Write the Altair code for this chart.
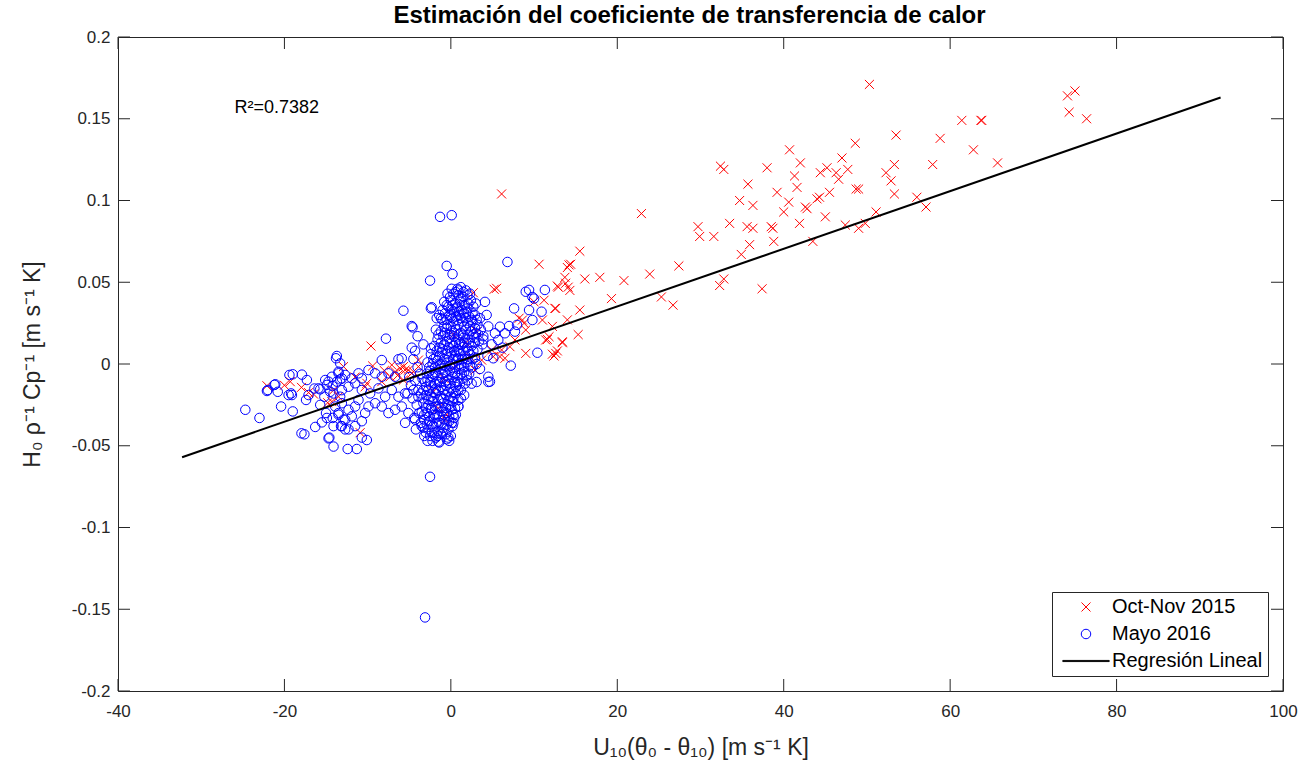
import altair as alt
import pandas as pd

# ---- Oct-Nov 2015 campaign: (U10*(theta0-theta10), H0/(rho*Cp)) ----
octnov_high = [
    (50.3, 0.171), (53.5, 0.140), (48.6, 0.135), (40.7, 0.131), (42.0, 0.123),
    (47.0, 0.126), (32.4, 0.121), (32.8, 0.119), (38.0, 0.120), (35.7, 0.110),
    (41.3, 0.115), (41.6, 0.108), (44.4, 0.117), (45.2, 0.120), (46.3, 0.117),
    (47.7, 0.119), (46.6, 0.113), (52.3, 0.117), (53.3, 0.122), (52.9, 0.112),
    (53.3, 0.104), (48.7, 0.107), (49.0, 0.107), (39.2, 0.105), (40.6, 0.099),
    (40.0, 0.093), (42.6, 0.096), (42.8, 0.095), (44.0, 0.101), (44.3, 0.102),
    (45.5, 0.105), (45.0, 0.090), (41.9, 0.086), (34.7, 0.100), (36.3, 0.097),
    (33.5, 0.086), (29.7, 0.084), (29.9, 0.078), (31.6, 0.078), (35.6, 0.084),
    (36.3, 0.083), (38.5, 0.084), (38.7, 0.083), (35.9, 0.073), (38.8, 0.075),
    (34.9, 0.067), (43.5, 0.075), (47.4, 0.085), (49.0, 0.083), (49.8, 0.086),
    (51.1, 0.093), (56.0, 0.102), (22.9, 0.092),
    (75.0, 0.167), (74.1, 0.164), (74.3, 0.154), (76.4, 0.150), (61.4, 0.149),
    (63.7, 0.149), (63.8, 0.149), (58.8, 0.138), (62.8, 0.131), (57.9, 0.122),
    (65.7, 0.123), (57.1, 0.096),
]
octnov_mid = [
    (15.5, 0.069), (14.4, 0.061), (14.0, 0.059), (13.7, 0.053), (16.1, 0.052),
    (17.9, 0.053), (20.8, 0.051), (23.9, 0.055), (27.4, 0.060), (12.9, 0.047),
    (14.1, 0.047), (14.3, 0.045), (19.3, 0.040), (25.3, 0.041), (26.7, 0.036),
    (32.3, 0.048), (32.8, 0.052), (37.4, 0.046), (12.5, 0.034), (15.5, 0.033),
    (14.0, 0.027), (15.3, 0.018), (12.2, 0.023), (13.4, 0.013), (11.6, 0.015),
    (12.2, 0.006), (12.8, 0.008), (10.6, 0.061),
    (2.7, 0.0436), (5.2, 0.0457), (6.1, 0.104), (5.5, 0.0463), (12.8, 0.0477),
    (12.6, 0.034), (8.2, 0.028), (8.8, 0.0249), (11.0, 0.0269), (11.8, 0.0167),
    (11.4, 0.0147), (12.6, 0.0065), (12.4, 0.0049), (9.0, 0.0065), (6.1, 0.0086),
    (5.9, 0.0045), (6.5, 0.0035), (7.1, 0.0106), (7.7, 0.0147), (4.9, 0.0086),
    (3.7, 0.0024), (2.9, -0.0037), (3.1, 0.0198), (13.8, 0.0494), (14.2, 0.0606),
    (11.2, 0.039), (10.0, 0.038), (13.4, 0.0136), (9.0, 0.0208), (8.6, 0.0269),
    (5.1, 0.0045), (0.5, -0.001), (1.8, 0.013), (0.3, 0.018), (2.4, 0.004),
]
octnov_low = [
    (-22.1, -0.0133), (-19.3, -0.0108), (-17.95, -0.0143), (-17.1, -0.0175),
    (-16.5, -0.0184), (-14.8, -0.0237), (-14.3, -0.023), (-12.9, -0.0016),
    (-9.6, 0.011), (-9.4, -0.0012), (-10.9, -0.042), (-10.3, -0.0139),
    (-7.1, -0.0006), (-6.7, -0.0047), (-6.1, -0.0026), (-5.7, -0.0016),
    (-5.1, -0.0037), (-4.5, -0.0047), (-3.9, -0.0016), (-7.3, -0.0078),
    (-5.7, -0.0098), (-10.1, -0.0118), (-8.3, -0.0108), (-13.5, -0.020),
    (-14.1, -0.016), (-5.5, -0.0037), (-4.7, -0.0057), (-3.9, 0.0024),
    (-0.5, -0.031), (-0.7, -0.034), (-8.0, -0.004), (-6.4, -0.007),
    (-11.5, -0.008), (-20.0, -0.013), (-0.8, -0.009), (-1.5, -0.027),
    (-2.1, -0.017),
]

# ---- Mayo 2016 campaign ----
mayo_left = [
    (-24.7, -0.028), (-23.0, -0.033), (-22.1, -0.0165), (-21.1, -0.0124),
    (-20.8, -0.017), (-20.4, -0.026), (-19.0, -0.029), (-19.5, -0.019),
    (-19.2, -0.018), (-19.0, -0.0063), (-17.9, -0.0065), (-17.3, -0.0098),
    (-17.4, -0.022), (-17.1, -0.019), (-17.6, -0.043), (-16.3, -0.0385),
    (-15.5, -0.0357), (-15.7, -0.025), (-15.0, -0.030), (-14.6, -0.045),
    (-14.1, -0.0505), (-13.7, 0.0049), (-13.8, 0.0035), (-16.4, -0.015),
    (-15.7, -0.0155), (-14.9, -0.0128), (-14.2, -0.0135), (-14.7, -0.0108),
    (-13.7, -0.0108), (-13.3, -0.0094), (-14.1, -0.018), (-13.3, -0.020),
    (-15.2, -0.020), (-14.5, -0.017), (-13.1, -0.016), (-13.5, -0.0057),
    (-12.7, -0.0067), (-14.2, -0.033), (-13.5, -0.031), (-12.9, -0.034),
    (-13.2, -0.038), (-14.1, -0.038), (-14.9, -0.033), (-12.7, -0.040),
    (-12.4, -0.052), (-11.3, -0.052), (-10.7, -0.045), (-10.1, -0.0465),
    (-17.95, -0.0424), (-14.7, -0.0455), (-21.2, -0.0128), (-22.0, -0.0159),
    (-19.4, -0.0067), (-19.1, -0.019), (-15.9, -0.0149), (-15.1, -0.0098),
    (-14.3, -0.0078), (-13.5, -0.0047), (-13.1, -0.0088),
]
mayo_mid = [
    (-5.7, 0.0326), (-2.3, 0.0347), (-4.7, 0.0232), (-4.6, 0.0224),
    (-7.8, 0.0155), (-4.3, 0.0080), (-5.9, 0.0035), (-6.3, 0.0029),
    (-8.3, 0.0024), (-13.3, 0.0004), (-11.1, -0.0057), (-10.7, -0.0088),
    (-11.9, -0.0088), (-9.9, -0.0037), (-9.1, -0.0057), (-8.3, -0.0078),
    (-7.5, -0.0057), (-6.7, -0.0078), (-12.3, -0.0139), (-11.5, -0.0118),
    (-10.7, -0.0159), (-9.7, -0.018), (-8.7, -0.0149), (-7.9, -0.020),
    (-7.1, -0.0159), (-6.3, -0.020), (-5.5, -0.018), (-4.5, -0.0159),
    (-3.9, -0.020), (-13.9, -0.026), (-13.1, -0.024), (-12.3, -0.028),
    (-11.5, -0.026), (-11.1, -0.022), (-11.9, -0.032), (-12.7, -0.034),
    (-13.5, -0.030), (-13.1, -0.038), (-12.3, -0.040), (-11.5, -0.038),
    (-10.7, -0.035), (-10.3, -0.030), (-9.9, -0.026), (-9.1, -0.024),
    (-8.3, -0.026), (-7.5, -0.030), (-6.7, -0.028), (-5.9, -0.026),
    (-5.1, -0.030), (-4.3, -0.034), (-3.5, -0.038), (-5.5, -0.036),
    (-4.5, 0.003), (-4.0, -0.002), (-3.7, -0.006), (-4.3, -0.010),
    (-4.8, -0.013), (-3.9, -0.016), (-4.6, -0.021), (-4.1, -0.025),
    (-3.8, -0.030), (-4.4, -0.033), (-3.6, -0.036), (-4.2, -0.040),
    (-5.2, -0.018), (-5.0, -0.008), (-3.2, -0.044), (-2.8, -0.047),
    (-2.2, -0.047), (-4.0, 0.017), (-3.3, 0.012), (-4.7, 0.010),
]
mayo_core = [
    (0.1, 0.046), (0.6, 0.044), (1.2, 0.047), (1.8, 0.045), (0.9, 0.042),
    (-0.4, 0.043), (1.5, 0.041), (2.3, 0.043),
    (-0.8, 0.038), (0.0, 0.039), (0.5, 0.037), (1.1, 0.038), (1.7, 0.036),
    (2.4, 0.039), (3.0, 0.037), (-0.3, 0.035), (2.0, 0.034), (1.3, 0.033),
    (0.7, 0.034),
    (-1.4, 0.030), (-0.7, 0.031), (0.0, 0.029), (0.4, 0.032), (1.0, 0.030),
    (1.6, 0.031), (2.2, 0.029), (2.9, 0.030), (3.5, 0.028), (-1.0, 0.027),
    (0.3, 0.026), (0.8, 0.027), (1.4, 0.026), (2.0, 0.025), (2.6, 0.026),
    (3.2, 0.024), (-0.4, 0.024),
    (-1.8, 0.021), (-1.2, 0.020), (-0.5, 0.022), (0.1, 0.020), (0.6, 0.021),
    (1.2, 0.019), (1.8, 0.021), (2.4, 0.020), (3.0, 0.019), (3.6, 0.021),
    (-0.9, 0.017), (-0.2, 0.016), (0.4, 0.017), (0.9, 0.015), (1.5, 0.016),
    (2.1, 0.015), (2.8, 0.016), (3.9, 0.017), (-1.6, 0.015),
    (-2.0, 0.011), (-1.4, 0.010), (-0.8, 0.012), (-0.2, 0.010), (0.3, 0.011),
    (0.8, 0.009), (1.3, 0.012), (1.9, 0.010), (2.5, 0.011), (3.2, 0.009),
    (3.8, 0.012), (-1.1, 0.007), (-0.5, 0.006), (0.1, 0.007), (0.6, 0.005),
    (1.1, 0.006), (1.7, 0.005), (2.3, 0.006), (2.9, 0.004), (-2.4, 0.006),
    (-1.8, 0.004),
    (-2.8, 0.001), (-2.2, 0.000), (-1.6, 0.002), (-1.0, -0.001), (-0.4, 0.001),
    (0.2, 0.000), (0.7, 0.002), (1.3, -0.001), (1.9, 0.001), (2.6, -0.002),
    (3.1, 0.000), (-2.5, -0.004), (-1.9, -0.005), (-1.3, -0.003), (-0.7, -0.005),
    (-0.1, -0.004), (0.5, -0.006), (1.0, -0.003), (1.6, -0.005), (2.2, -0.006),
    (-3.4, -0.009), (-2.8, -0.010), (-2.2, -0.008), (-1.6, -0.011), (-1.0, -0.009),
    (-0.4, -0.010), (0.2, -0.008), (0.8, -0.011), (1.4, -0.009), (2.0, -0.010),
    (2.5, -0.012), (-3.0, -0.014), (-2.4, -0.013), (-1.8, -0.015), (-1.2, -0.014),
    (-0.6, -0.013), (0.0, -0.015), (0.6, -0.014), (1.2, -0.016),
    (-3.6, -0.018), (-3.0, -0.019), (-2.4, -0.020), (-1.8, -0.018), (-1.2, -0.021),
    (-0.6, -0.019), (0.0, -0.020), (0.6, -0.018), (1.2, -0.021), (1.6, -0.019),
    (-3.3, -0.024), (-2.7, -0.025), (-2.1, -0.023), (-1.5, -0.026), (-0.9, -0.024),
    (-0.3, -0.025), (0.3, -0.023), (0.9, -0.026),
    (-3.5, -0.029), (-2.9, -0.030), (-2.3, -0.028), (-1.7, -0.031), (-1.1, -0.029),
    (-0.5, -0.030), (0.1, -0.028), (0.6, -0.031), (-3.2, -0.034), (-2.6, -0.035),
    (-2.0, -0.033), (-1.4, -0.036), (-0.8, -0.034), (-0.2, -0.035), (0.4, -0.033),
    (-3.3, -0.039), (-2.7, -0.040), (-2.1, -0.038), (-1.5, -0.041), (-0.9, -0.039),
    (-0.3, -0.040), (0.2, -0.038), (-2.5, -0.044), (-1.8, -0.045), (-1.2, -0.043),
    (-0.5, -0.046), (0.0, -0.044), (-1.4, -0.048), (-0.2, -0.047), (-2.3, -0.042),
    (-1.3, 0.090), (0.1, 0.091), (-0.5, 0.060), (0.2, 0.055), (-2.5, 0.051),
    (0.8, 0.046), (-2.4, 0.034), (-1.7, 0.028), (-2.4, 0.0096), (0.9, -0.026),
    (0.3, -0.036), (-1.5, -0.0475), (-0.3, -0.045), (-2.5, -0.069), (-3.1, -0.155),
]
mayo_core_dense = [
    (0.3, 0.043), (0.9, 0.045), (1.5, 0.044), (2.0, 0.042), (-0.1, 0.041), (1.2, 0.040),
    (-0.5, 0.036), (0.2, 0.036), (0.8, 0.035), (1.4, 0.036), (2.1, 0.037), (2.7, 0.035),
    (1.0, 0.032), (1.9, 0.032), (2.6, 0.031), (-1.0, 0.033), (0.1, 0.033),
    (-1.2, 0.028), (-0.5, 0.027), (0.2, 0.028), (0.6, 0.029), (1.2, 0.028), (1.8, 0.028),
    (2.5, 0.027), (3.1, 0.027), (-0.2, 0.030), (0.9, 0.024), (1.6, 0.023), (2.3, 0.023),
    (2.9, 0.022), (0.0, 0.023), (-0.8, 0.023),
    (-1.5, 0.018), (-0.7, 0.019), (-0.1, 0.018), (0.4, 0.019), (0.9, 0.018), (1.5, 0.018),
    (2.1, 0.018), (2.7, 0.018), (3.3, 0.018), (-1.2, 0.013), (-0.5, 0.014), (0.1, 0.013),
    (0.6, 0.013), (1.0, 0.012), (1.6, 0.013), (2.2, 0.013), (2.9, 0.013), (3.4, 0.014),
    (-1.7, 0.008), (-1.0, 0.009), (-0.4, 0.008), (0.4, 0.008), (1.0, 0.008), (1.5, 0.008),
    (2.1, 0.008), (2.7, 0.008), (-2.1, 0.003), (-1.4, 0.005), (-0.8, 0.003), (-0.2, 0.004),
    (0.3, 0.003), (0.9, 0.003), (1.4, 0.003), (2.0, 0.003), (2.6, 0.003),
    (-2.6, -0.002), (-1.9, -0.002), (-1.3, 0.000), (-0.7, -0.001), (-0.1, -0.001),
    (0.5, -0.002), (1.0, 0.000), (1.6, -0.002), (2.3, -0.001), (-2.9, -0.006),
    (-2.2, -0.006), (-1.6, -0.007), (-1.0, -0.006), (-0.4, -0.007), (0.2, -0.005),
    (0.8, -0.007), (1.3, -0.006), (1.9, -0.007),
    (-3.1, -0.011), (-2.5, -0.011), (-1.9, -0.012), (-1.3, -0.011), (-0.7, -0.011),
    (-0.1, -0.012), (0.5, -0.011), (1.1, -0.012), (1.7, -0.012), (-3.3, -0.016),
    (-2.7, -0.016), (-2.1, -0.017), (-1.5, -0.016), (-0.9, -0.016), (-0.3, -0.017),
    (0.3, -0.017), (0.9, -0.016),
    (-3.3, -0.021), (-2.7, -0.022), (-2.1, -0.021), (-1.5, -0.022), (-0.9, -0.021),
    (-0.3, -0.022), (0.3, -0.021), (0.9, -0.022), (-3.0, -0.027), (-2.4, -0.027),
    (-1.8, -0.026), (-1.2, -0.027), (-0.6, -0.027), (0.0, -0.026), (0.5, -0.027),
    (-3.2, -0.031), (-2.6, -0.032), (-2.0, -0.031), (-1.4, -0.032), (-0.8, -0.031),
    (-0.2, -0.032), (0.3, -0.031), (-2.9, -0.037), (-2.3, -0.037), (-1.7, -0.036),
    (-1.1, -0.037), (-0.5, -0.037), (0.1, -0.036), (-3.0, -0.042), (-2.0, -0.042),
    (-1.0, -0.042), (-0.6, -0.043), (-1.6, -0.044),
]
mayo_right = [
    (4.1, 0.038), (4.3, 0.030), (5.9, 0.0228), (7.0, 0.0232), (7.95, 0.0239),
    (7.7, 0.0198), (6.5, 0.0188), (5.3, 0.0188), (5.7, 0.0147), (4.5, -0.0078),
    (4.7, -0.0108), (5.1, 0.0035), (6.8, 0.0624), (9.0, 0.0442), (9.4, 0.0453),
    (9.8, 0.041), (10.0, 0.040), (11.3, 0.0453), (7.6, 0.034), (9.4, 0.033),
    (10.9, 0.032), (9.8, 0.0269), (10.4, 0.0069), (7.2, -0.001), (4.9, 0.012),
    (3.9, 0.015), (4.4, 0.005), (3.5, -0.003), (6.2, 0.010), (4.5, 0.023),
    (4.5, -0.011), (3.1, -0.011),
]

# Least-squares fit drawn over the full span of the data
reg_x = [-32.3, 92.5]
reg_y = [-0.057, 0.163]
r2_text = "R\u00b2=0.7382"

series_names = ["Oct-Nov 2015", "Mayo 2016", "Regresión Lineal"]
series_colors = ["#ff0000", "#0000ff", "#000000"]
series_shapes = [
    "M-0.95,-0.95L0.95,0.95M0.95,-0.95L-0.95,0.95",
    "circle",
    "M-4.9,-0.12L4.9,-0.12L4.9,0.12L-4.9,0.12Z",
]

x_ticks = [-40, -20, 0, 20, 40, 60, 80, 100]
y_ticks = [-0.2, -0.15, -0.1, -0.05, 0, 0.05, 0.1, 0.15, 0.2]

W, H = 1165, 654
FONT = "Liberation Sans"
AX = "#262626"

rows = []
for name, groups in [(series_names[0], [octnov_high, octnov_mid, octnov_low]),
                     (series_names[1], [mayo_left, mayo_mid, mayo_core, mayo_core_dense, mayo_right])]:
    for g in groups:
        for xv, yv in g:
            rows.append({"x": xv, "y": yv, "serie": name})
points = pd.DataFrame(rows)

xs = alt.Scale(domain=[-40, 100], nice=False, zero=False)
ys = alt.Scale(domain=[-0.2, 0.2], nice=False, zero=False)

x_enc = alt.X("x:Q", scale=xs, axis=alt.Axis(
    values=x_ticks, title="U\u2081\u2080(\u03b8\u2080 - \u03b8\u2081\u2080) [m s\u207b\u00b9 K]",
    ticks=False, domain=False, grid=False, labelPadding=12, titlePadding=17,
    labelFlush=False, labelExpr="'' + datum.value"))
y_enc = alt.Y("y:Q", scale=ys, axis=alt.Axis(
    values=y_ticks, title="H\u2080 \u03c1\u207b\u00b9 Cp\u207b\u00b9 [m s\u207b\u00b9 K]",
    ticks=False, domain=False, grid=False, labelPadding=8, titlePadding=27,
    labelFlush=False, labelExpr="'' + datum.value"))

scatter = alt.Chart(points).mark_point(filled=False, size=90, strokeWidth=1, opacity=1).encode(
    x=x_enc,
    y=y_enc,
    color=alt.Color("serie:N", scale=alt.Scale(domain=series_names, range=series_colors),
                    legend=alt.Legend(title=None)),
    shape=alt.Shape("serie:N", scale=alt.Scale(domain=series_names, range=series_shapes),
                    legend=alt.Legend(title=None)),
)

fit = alt.Chart(pd.DataFrame({"x": reg_x, "y": reg_y})).mark_line(
    color="black", strokeWidth=2).encode(x=alt.X("x:Q", scale=xs), y=alt.Y("y:Q", scale=ys))

r2 = alt.Chart(pd.DataFrame({"x": [-26.0], "y": [0.1566], "t": [r2_text]})).mark_text(
    align="left", baseline="middle", fontSize=18, font=FONT, color="black").encode(
    x=alt.X("x:Q", scale=xs), y=alt.Y("y:Q", scale=ys), text="t:N")

# inward tick marks on all four sides of the box
xt = pd.DataFrame({"x": x_ticks})
yt = pd.DataFrame({"y": y_ticks})
tick_len = 12
xt_bottom = alt.Chart(xt).mark_rule(color=AX, strokeWidth=1).encode(
    x=alt.X("x:Q", scale=xs), y=alt.value(H), y2=alt.value(H - tick_len))
xt_top = alt.Chart(xt).mark_rule(color=AX, strokeWidth=1).encode(
    x=alt.X("x:Q", scale=xs), y=alt.value(0), y2=alt.value(tick_len))
yt_left = alt.Chart(yt).mark_rule(color=AX, strokeWidth=1).encode(
    y=alt.Y("y:Q", scale=ys), x=alt.value(0), x2=alt.value(tick_len))
yt_right = alt.Chart(yt).mark_rule(color=AX, strokeWidth=1).encode(
    y=alt.Y("y:Q", scale=ys), x=alt.value(W), x2=alt.value(W - tick_len))

chart = alt.layer(xt_bottom, xt_top, yt_left, yt_right, scatter, fit, r2).properties(
    width=W, height=H,
    title=alt.TitleParams("Estimación del coeficiente de transferencia de calor",
                          fontSize=24, fontWeight="bold", font=FONT, color="black",
                          anchor="middle", offset=0, dx=-11),
    padding={"left": 118, "top": 37, "right": 33, "bottom": 87},
    autosize="none",
    background="white",
).configure_view(
    stroke=AX, strokeWidth=1, fill="white"
).configure_axis(
    labelFont=FONT, labelFontSize=17, labelColor=AX,
    titleFont=FONT, titleFontSize=23, titleColor=AX, titleFontWeight="normal",
).configure_legend(
    orient="none", legendX=934, legendY=555,
    strokeColor=AX, fillColor="white", padding=5,
    labelFont=FONT, labelFontSize=20, labelColor="black",
    symbolSize=90, symbolStrokeWidth=1, symbolOffset=19, labelOffset=16,
    rowPadding=7, cornerRadius=0,
)

chart.save("out.html", embed_options={"renderer": "svg", "actions": False})
